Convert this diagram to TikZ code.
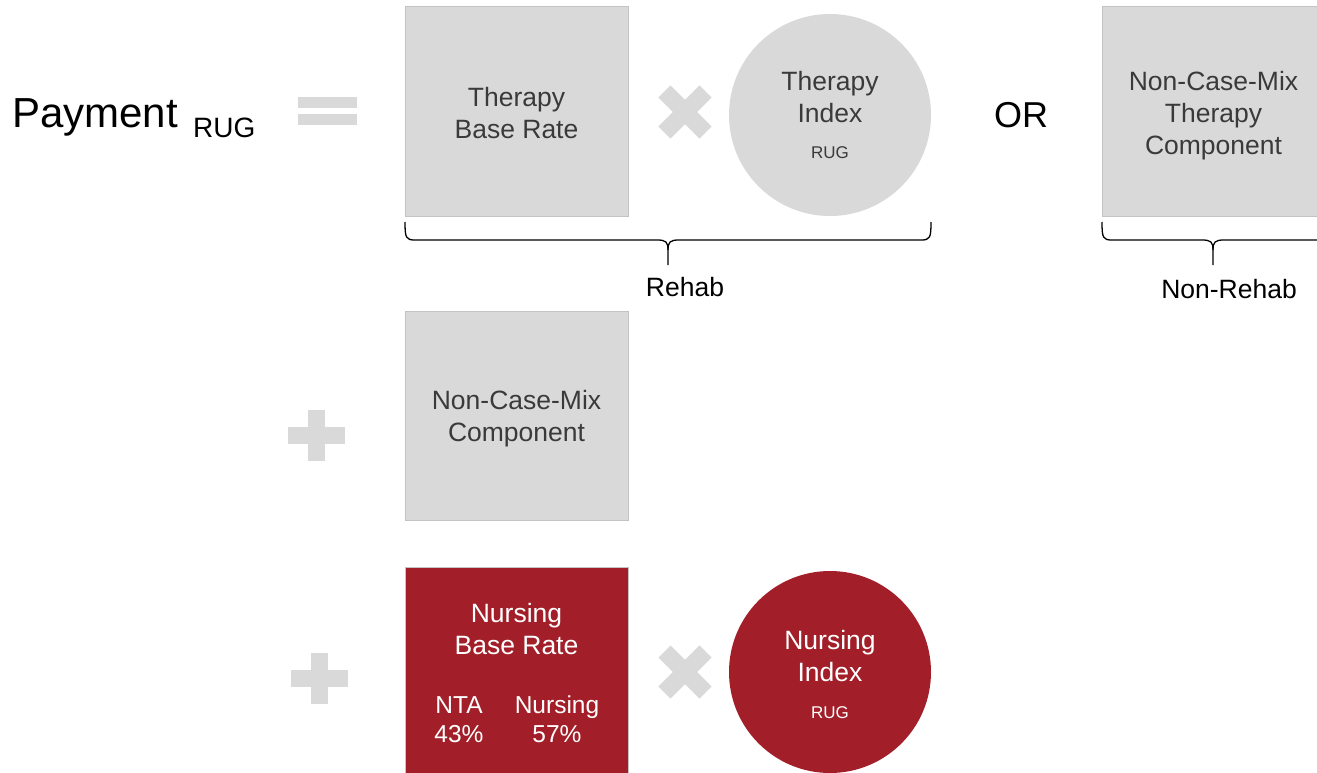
\documentclass[tikz,border=0pt]{standalone}
\usepackage{fontspec}
\setmainfont{Liberation Sans}
\definecolor{boxgrey}{HTML}{D9D9D9}
\definecolor{edgegrey}{HTML}{C4C4C4}
\definecolor{txtgrey}{HTML}{3A3A3A}
\definecolor{nred}{HTML}{A21F29}
\begin{document}
\begin{tikzpicture}[x=1pt,y=-1pt,
  lbl/.style={font=\fontsize{26.5}{32}\selectfont, align=center, inner sep=0pt},
  sublbl/.style={font=\fontsize{24.5}{29}\selectfont, align=center, inner sep=0pt},
  greybox/.style={draw=edgegrey, line width=1pt, fill=boxgrey, minimum width=223pt, minimum height=209pt, inner sep=0pt},
  redbox/.style={draw=edgegrey, line width=1pt, fill=nred, minimum width=223pt, minimum height=209pt, inner sep=0pt},
  greycirc/.style={circle, fill=boxgrey, minimum size=202pt, inner sep=0pt},
  redcirc/.style={circle, fill=nred, minimum size=202pt, inner sep=0pt},
  sym/.style={fill=boxgrey},
  bracepath/.style={draw=black, line width=1.3pt},
  small/.style={font=\fontsize{17}{20}\selectfont, inner sep=0pt},
]
\useasboundingbox (0,0) rectangle (1317,773);
\clip (0,0) rectangle (1317,773);
\fill[white] (0,0) rectangle (1317,773);

% Payment = ...
\node[anchor=base west, font=\fontsize{42}{48}\selectfont, inner sep=0pt] (pay) at (12,128) {Payment};
\node[anchor=base west, font=\fontsize{28}{32}\selectfont, inner sep=0pt] (payrug) at (193,138) {RUG};
\coordinate (eq) at (327.5,111);
\fill[sym] (298,97) rectangle (357,108);
\fill[sym] (298,114) rectangle (357,125);

% Rehab row
\node[greybox] (tbr) at (516.5,111.5) {};
\node[lbl, text=txtgrey] (tbrt) at (516.5,113.5) {Therapy\\Base Rate};
\coordinate (x1) at (685,112);
\fill[sym, rotate around={45:(x1)}] (656,103.5) rectangle (714,120.5);
\fill[sym, rotate around={-45:(x1)}] (656,103.5) rectangle (714,120.5);
\node[greycirc] (tix) at (830,115) {};
\node[lbl, text=txtgrey] (tixt) at (830,97) {Therapy\\Index};
\node[small, text=txtgrey] (tixr) at (830,153) {RUG};

\node[font=\fontsize{36}{40}\selectfont, anchor=base, inner sep=0pt] (or) at (1021,128) {OR};

\node[greybox] (nctc) at (1213.5,111.5) {};
\node[lbl, text=txtgrey] (nctct) at (1213.5,115.5) {Non-Case-Mix\\Therapy\\Component};

% braces
\coordinate (rb1) at (405,222);
\coordinate (rb2) at (931,222);
\coordinate (rtip) at (668,265);
\draw[bracepath] (rb1) .. controls (405,238) and (406,240) .. (415,240) -- (657,240)
   .. controls (666,240) and (668,242) .. (668,250) -- (rtip);
\draw[bracepath] (668,250) .. controls (668,242) and (670,240) .. (679,240) -- (921,240)
   .. controls (930,240) and (931,238) .. (rb2);
\node[lbl, anchor=base] (rehab) at (685,296) {Rehab};

\coordinate (nb1) at (1102,222);
\coordinate (ntip) at (1213,265);
\draw[bracepath] (nb1) .. controls (1102,238) and (1103,240) .. (1112,240) -- (1202,240)
   .. controls (1211,240) and (1213,242) .. (1213,250) -- (ntip);
\draw[bracepath] (1213,250) .. controls (1213,242) and (1215,240) .. (1224,240) -- (1330,240);
\node[lbl, anchor=base] (nonrehab) at (1229,298) {Non-Rehab};

% Non-case-mix component
\coordinate (p1) at (316.5,435.5);
\fill[sym] (288,427) rectangle (345,444);
\fill[sym] (308,410) rectangle (325,461);
\node[greybox] (ncm) at (516.5,415.5) {};
\node[lbl, text=txtgrey] (ncmt) at (516.5,418.5) {Non-Case-Mix\\Component};

% Nursing row
\coordinate (p2) at (319,678);
\fill[sym] (290.5,669.5) rectangle (347.5,686.5);
\fill[sym] (310.5,652.5) rectangle (327.5,703.5);
\node[redbox] (nbr) at (516.5,671.5) {};
\node[lbl, text=white] (nbrt) at (516.5,629) {Nursing\\Base Rate};
\node[sublbl, text=white] (nta) at (459,719.5) {NTA\\43\%};
\node[sublbl, text=white] (nurs) at (557,719.5) {Nursing\\57\%};
\coordinate (x2) at (685,672);
\fill[sym, rotate around={45:(x2)}] (656,663.5) rectangle (714,680.5);
\fill[sym, rotate around={-45:(x2)}] (656,663.5) rectangle (714,680.5);
\node[redcirc] (nix) at (830,672) {};
\node[lbl, text=white] (nixt) at (830,656) {Nursing\\Index};
\node[small, text=white] (nixr) at (830,713) {RUG};
\end{tikzpicture}
\end{document}
